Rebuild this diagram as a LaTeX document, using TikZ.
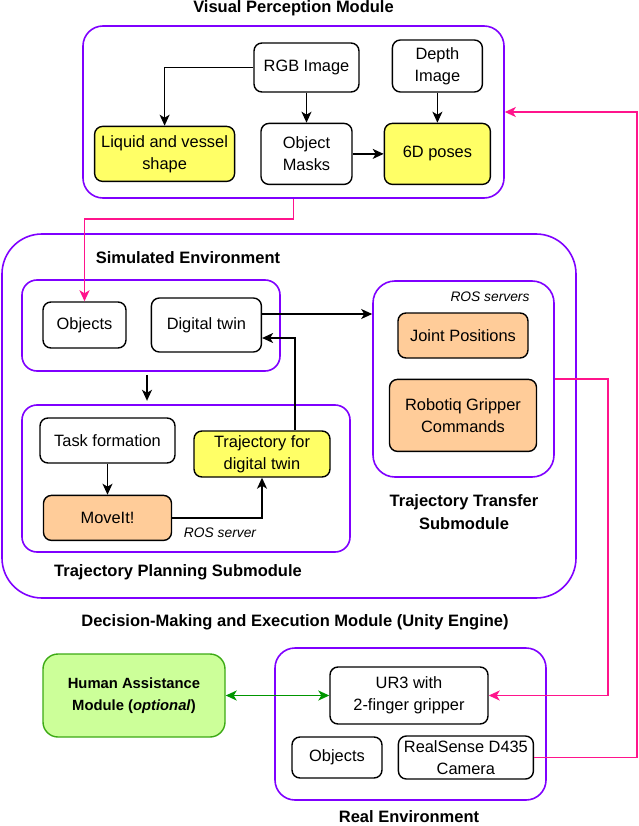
\documentclass[tikz,border=0pt]{standalone}
\usepackage{fontspec}
\setmainfont{Liberation Sans}
\usetikzlibrary{positioning,arrows.meta}
\definecolor{vio}{RGB}{127,0,255}
\definecolor{pk}{RGB}{255,20,140}
\definecolor{yel}{RGB}{255,255,102}
\definecolor{ora}{RGB}{255,204,153}
\definecolor{lgreen}{RGB}{204,255,153}
\definecolor{dgreen}{RGB}{60,170,20}
\definecolor{agreen}{RGB}{0,150,0}

\begin{document}
\begin{tikzpicture}[x=1pt, y=-1pt, line width=1.4pt,
  >={Stealth[length=11pt,width=10pt,inset=3pt]},
  box/.style={draw, rounded corners=8pt, align=center, inner sep=0pt, font=\fontsize{16.4}{22}\selectfont},
  yelbox/.style={box, fill=yel},
  orabox/.style={box, fill=ora},
  frame/.style={draw=vio, line width=1.6pt, inner sep=0pt},
  ttl/.style={font=\bfseries\fontsize{16.5}{23}\selectfont, align=center},
  ros/.style={font=\itshape\fontsize{13.8}{16}\selectfont},
  pink/.style={draw=pk, line width=1.8pt, ->}]
\useasboundingbox (0,0) rectangle (638,826);

\node (vpm) [frame, rounded corners=20pt, minimum width=421pt, minimum height=172pt] at (293.5,112) {};
\node (vpmt) [ttl] at (293.5,8) {Visual Perception Module};
  \node (rgb) [box, minimum width=105pt, minimum height=49pt] at (306.5,67.5) {RGB Image};
  \node (masks) [box, below=30pt of rgb, minimum width=91pt, minimum height=61pt] {Object\\Masks};
  \node (liquid) [yelbox, left=25pt of masks, minimum width=140pt, minimum height=55pt] {Liquid and vessel\\shape};
  \node (poses) [yelbox, right=31pt of masks, minimum width=106pt, minimum height=61pt] {6D poses};
  \node (depth) [box, above=30pt of poses, minimum width=90pt, minimum height=52pt] {Depth\\Image};
   \draw[->] (rgb) -| (liquid);
   \draw[->] (rgb) -- (masks);
   \draw[->] (depth) -- (poses);
   \draw[->] (masks) -- (poses);

\node (dm) [frame, rounded corners=40pt, minimum width=574pt, minimum height=364pt] at (289,416) {};
\node (dmt) [ttl] at (295,622) {Decision-Making and Execution Module (Unity Engine)};
\node (sim) [frame, rounded corners=15pt, minimum width=258pt, minimum height=91pt] at (151,325.5) {};
\node (simt) [ttl] at (188,258) {Simulated Environment};
  \node (objs) [box, minimum width=83pt, minimum height=46pt] at (84.5,325) {Objects};
  \node (twin) [box, right=24pt of objs, minimum width=110pt, minimum height=54pt] {Digital twin};
\node (tp) [frame, rounded corners=15pt, minimum width=328pt, minimum height=147pt] at (186,478.5) {};
\node (tpt) [ttl] at (178,572) {Trajectory Planning Submodule};
  \node (task) [box, minimum width=135pt, minimum height=45pt] at (107.5,440.5) {Task formation};
  \node (moveit) [orabox, below=31pt of task, minimum width=128pt, minimum height=45pt] {MoveIt!};
  \node (traj) [yelbox, minimum width=136pt, minimum height=46pt] at (262,454) {Trajectory for\\digital twin};
  \node (ros1) [ros] at (220,533) {ROS server};
\node (tt) [frame, rounded corners=22pt, minimum width=181pt, minimum height=196pt] at (463.5,379) {};
\node (ttt) [ttl] at (464,512) {Trajectory Transfer\\Submodule};
  \node (ros2) [ros] at (490,297) {ROS servers};
  \node (joint) [orabox, minimum width=130pt, minimum height=45pt] at (463,335.5) {Joint Positions};
  \node (robotiq) [orabox, below=20pt of joint, minimum width=147pt, minimum height=72pt] {Robotiq Gripper\\Commands};
   \coordinate (tw) at ([yshift=11pt]twin.east);
   \coordinate (st) at ([xshift=-4pt,yshift=-3pt]sim.south);
   \draw[->] (tw) -- (tw -| tt.west);
   \draw[->] ([xshift=33pt]traj.north) |- ([yshift=-13pt]twin.east);
   \draw[->] (st) -- ++(0,26);
   \draw[->] (task) -- (moveit);
   \draw[->] (moveit) -| (traj);

\node (re) [frame, rounded corners=20pt, minimum width=271pt, minimum height=152pt] at (410.5,724) {};
\node (ret) [ttl] at (409,817) {Real Environment};
  \node (ur3) [box, minimum width=158pt, minimum height=57pt] at (409,695.5) {UR3 with\\2-finger gripper};
  \node (objr) [box, minimum width=90pt, minimum height=41pt] at (337,757.5) {Objects};
  \node (cam) [box, right=15pt of objr, minimum width=135pt, minimum height=43pt] {RealSense D435\\Camera};
\node (human) [draw=dgreen, fill=lgreen, rounded corners=15pt, minimum width=182pt, minimum height=83pt, align=center,
  font=\bfseries\fontsize{14.8}{22}\selectfont] at (134,695.5) {Human Assistance\\Module (\textit{optional})};
   \draw[<->, agreen, line width=1.6pt] (human) -- (ur3);

   \draw[pink] (vpm.south) -- ++(0,20) -| (objs.north);
   \draw[pink] (tt.east) -- ++(53.5,0) |- (ur3.east);
   \draw[pink] (cam.east) -- ++(103,0) |- (vpm.east);
\end{tikzpicture}
\end{document}
